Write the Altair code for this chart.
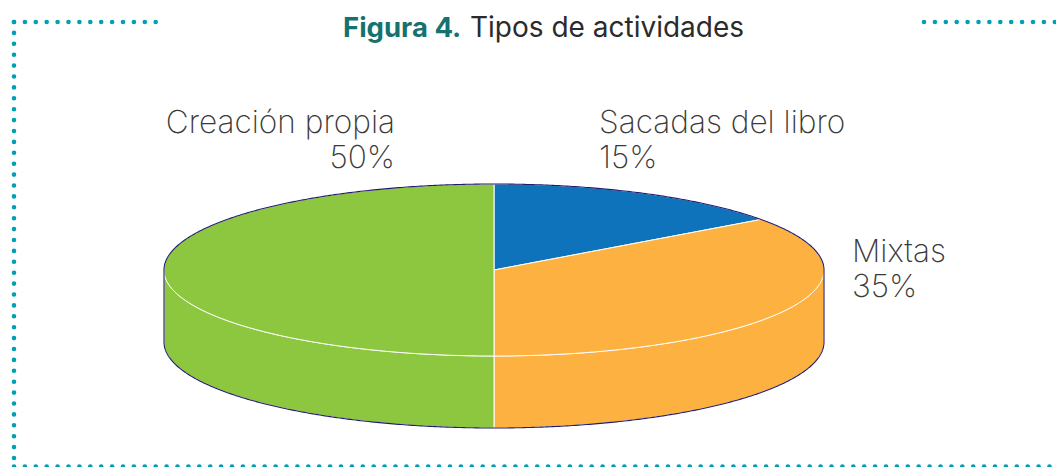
import numpy as np
import altair as alt

categorias = ["Sacadas del libro", "Mixtas", "Creación propia"]
porcentajes = [15, 35, 50]
colores = ["#0F73BC", "#FDB140", "#8DC63F"]
titulo_a = "Figura 4."
titulo_b = "Tipos de actividades"

RX, RY, DEPTH = 330, 86, 72
CX, CY = 486, 262
FONT = "Inter"
TEAL = "#00A0B4"
NAVY = "#211C70"


def rim(a0, a1, drop=0):
    ts = np.radians(np.linspace(a0, a1, max(int(abs(a1 - a0) * 2), 2)))
    return [[float(RX * np.sin(t)), float(RY * np.cos(t) - drop)] for t in ts]


def feature(kind, coords, name=""):
    return {"type": "Feature", "properties": {"cat": name},
            "geometry": {"type": kind, "coordinates": coords}}


tops, walls = [], []
start = 0.0
for cat, pct in zip(categorias, porcentajes):
    end = start + pct * 3.6
    tops.append(feature("Polygon", [[[0.0, 0.0]] + rim(start, end) + [[0.0, 0.0]]], cat))
    a0, a1 = max(start, 90.0), min(end, 270.0)
    if a1 > a0:
        front = rim(a0, a1)
        back = rim(a1, a0, DEPTH)
        walls.append(feature("Polygon", [front + back + [front[0]]], cat))
    start = end

outline = [feature("LineString", rim(90, 270, DEPTH)),
           feature("LineString", rim(-90, 90)),
           feature("LineString", [[float(RX), 0.0], [float(RX), float(-DEPTH)]]),
           feature("LineString", [[float(-RX), 0.0], [float(-RX), float(-DEPTH)]])]

color = alt.Color("properties.cat:N", legend=None,
                  scale=alt.Scale(domain=categorias, range=colores))
proj = dict(type="identity", reflectY=True, scale=1, translate=[CX, CY])


def shape(features, **mark):
    return alt.Chart(alt.Data(values=features)).mark_geoshape(**mark).project(**proj)


layers = [
    shape(walls, stroke="white", strokeWidth=1).encode(color=color),
    shape(tops, stroke="white", strokeWidth=1).encode(color=color),
    shape(outline, filled=False, stroke=NAVY, strokeWidth=1.1),
]


def dots(x0, x1, y0, y1):
    return alt.Chart(alt.Data(values=[{"k": 0}])).mark_rule(
        color=TEAL, strokeWidth=4.6, strokeCap="round", strokeDash=[0, 10.9]
    ).encode(x=alt.value(x0), x2=alt.value(x1), y=alt.value(y0), y2=alt.value(y1))


layers += [dots(6, 156, 14, 14), dots(6, 6, 14, 458), dots(6, 1048, 458.5, 458.5), dots(916, 1048, 14, 14)]


def text(content, x, y, align="left", size=31.6, weight=200, col="#3A3A3A"):
    return alt.Chart(alt.Data(values=[{"k": 0}])).mark_text(
        text=content, align=align, baseline="middle", lineHeight=35,
        font=FONT, fontSize=size, fontWeight=weight, color=col
    ).encode(x=alt.value(x), y=alt.value(y))


def rotulo(i):
    return [categorias[i], f"{porcentajes[i]}%"]


layers += [
    text(titulo_a, 335, 21, size=27.5, weight=700, col="#16726F"),
    text(titulo_b, 462, 21, size=28, weight=400, col="#2B2B2B"),
    text(rotulo(2), 387, 116, align="right"),
    text(rotulo(0), 591, 116),
    text(rotulo(1), 844, 245),
]

chart = alt.layer(*layers).properties(
    width=1048, height=459, padding=0, autosize=alt.AutoSizeParams(type="none")
).configure_view(stroke=None)

chart.save("out.html", embed_options={"renderer": "svg", "actions": False})
